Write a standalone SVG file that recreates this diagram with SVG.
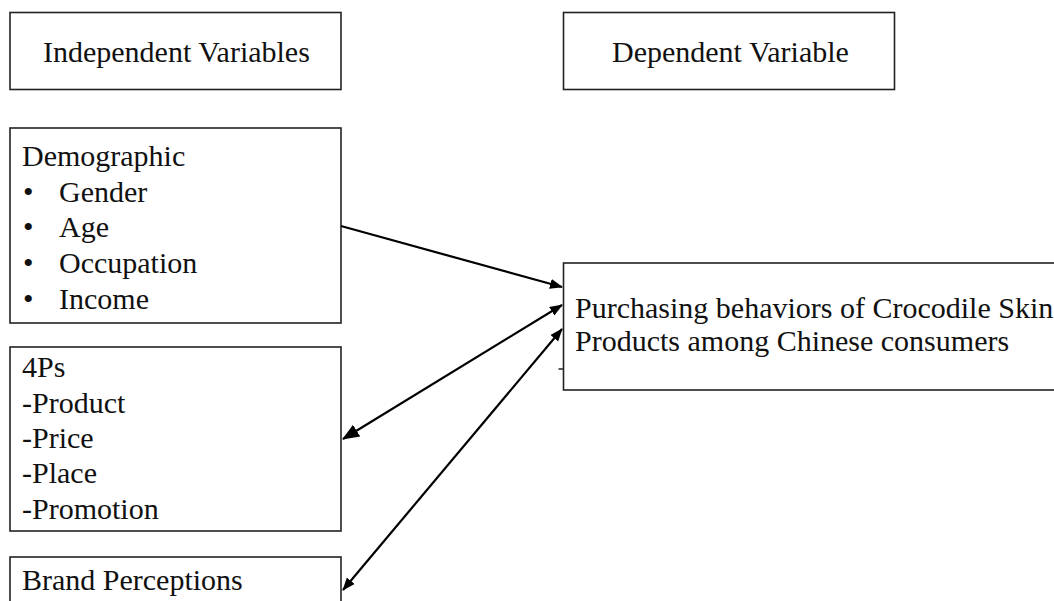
<svg xmlns="http://www.w3.org/2000/svg" width="1054" height="601" viewBox="0 0 1054 601">
<style>
.box{fill:#fff;stroke:#222;stroke-width:1.6}
.t{font-family:'Times New Roman','Liberation Serif',Tinos,serif;font-size:30px;fill:#111}
.c{stroke:#000;stroke-width:2.2;fill:none}
</style>
<defs>
<marker id="ah" markerUnits="userSpaceOnUse" markerWidth="14" markerHeight="12" refX="12" refY="5" orient="auto-start-reverse" viewBox="0 0 14 10">
<path d="M0,0 L13,5 L0,10 z" fill="#000"/>
</marker>
<marker id="ahL" markerUnits="userSpaceOnUse" markerWidth="18" markerHeight="16" refX="16" refY="7" orient="auto-start-reverse" viewBox="0 0 18 14">
<path d="M0,0 L17,7 L0,14 z" fill="#000"/>
</marker>
</defs>
<rect width="1054" height="601" fill="#fff"/>
<g id="independent-header">
<rect class="box" x="10" y="12.5" width="331" height="77"/>
<text class="t" x="43" y="62">Independent Variables</text>
</g>
<g id="dependent-header">
<rect class="box" x="563.5" y="12.5" width="331" height="77"/>
<text class="t" x="612" y="62">Dependent Variable</text>
</g>
<g id="demographic">
<rect class="box" x="10" y="128" width="331" height="195"/>
<text class="t" x="22" y="166">Demographic</text>
<text class="t" x="23" y="202">•</text><text class="t" x="59" y="202">Gender</text>
<text class="t" x="23" y="237">•</text><text class="t" x="59" y="237">Age</text>
<text class="t" x="23" y="273">•</text><text class="t" x="59" y="273">Occupation</text>
<text class="t" x="23" y="309">•</text><text class="t" x="59" y="309">Income</text>
</g>
<g id="fourps">
<rect class="box" x="10" y="347" width="331" height="184"/>
<text class="t" x="22" y="377">4Ps</text>
<text class="t" x="22" y="413">-Product</text>
<text class="t" x="22" y="448">-Price</text>
<text class="t" x="22" y="483">-Place</text>
<text class="t" x="22" y="519">-Promotion</text>
</g>
<g id="brand">
<rect class="box" x="10" y="557" width="331" height="60"/>
<text class="t" x="22" y="590">Brand Perceptions</text>
</g>
<g id="purchasing">
<rect class="box" x="563.5" y="263" width="520" height="127"/>
<text class="t" x="575" y="318">Purchasing behaviors of Crocodile Skin</text>
<text class="t" x="575" y="351">Products among Chinese consumers</text>
</g>
<g id="connectors">
<line class="c" x1="341" y1="226" x2="562" y2="287" marker-end="url(#ah)"/>
<line class="c" x1="343" y1="439" x2="562" y2="305" marker-start="url(#ahL)" marker-end="url(#ah)"/>
<line class="c" x1="343" y1="590" x2="562" y2="329" marker-start="url(#ah)" marker-end="url(#ah)"/>
<line x1="558.5" y1="369" x2="563.5" y2="369" stroke="#222" stroke-width="1.5"/>
</g>
</svg>
